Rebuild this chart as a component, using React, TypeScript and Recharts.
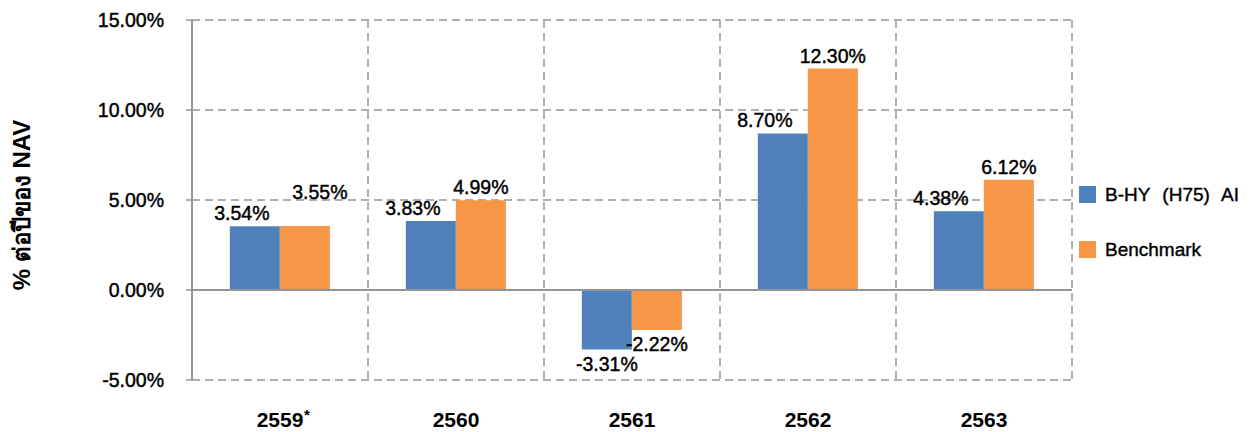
import React from "react";
import {
  BarChart,
  Bar,
  XAxis,
  YAxis,
  CartesianGrid,
  Legend,
  ReferenceLine,
  LabelList,
} from "recharts";

const years = ["2559", "2560", "2561", "2562", "2563"];
const fundReturns = [3.54, 3.83, -3.31, 8.7, 4.38];
const benchmarkReturns = [3.55, 4.99, -2.22, 12.3, 6.12];
const yTicks = [-5, 0, 5, 10, 15];
const footnoteYears = ["2559"];
const seriesNames = ["B-HY (H75) AI", "Benchmark"];
const seriesColors = ["#4F81BD", "#F79646"];
const yTitle = "% ต่อปีของ NAV";

const data = years.map((year, i) => ({
  year,
  fund: fundReturns[i],
  benchmark: benchmarkReturns[i],
}));

const FONT = "'Liberation Sans', Arial, 'Noto Sans', sans-serif";
const GRID = "#959595";

const fmt = (v: number) => `${v.toFixed(2)}%`;

// data label: above positive bars, below negative ones.
// the pair is pushed apart when labels collide, and the fund label steps left off a taller neighbour bar
const makeLabel = (series: "fund" | "benchmark") => (props: any) => {
  const { x, y, width, height, value, index } = props;
  if (value == null) return null;
  const top = Math.min(y, y + height);
  const bottom = Math.max(y, y + height);
  const own = series === "fund" ? fundReturns[index] : benchmarkReturns[index];
  const other = series === "fund" ? benchmarkReturns[index] : fundReturns[index];
  const pxPerUnit = Math.abs(own) > 0 ? Math.abs(height) / Math.abs(own) : 0;
  let dx = 0;
  let dy = 0;
  const gap = (other - own) * pxPerUnit;
  if (Math.sign(own) === Math.sign(other) && Math.abs(gap) < 18) {
    dx = series === "fund" ? -13 : 15;
    dy = series === "fund" ? 0 : value >= 0 ? -21 : 21;
  } else if (series === "fund" && own > 0 && gap > 6 && gap < 80) {
    dx = -18;
  }
  const ty = value >= 0 ? top - 6 : bottom + 21;
  return (
    <text
      x={x + width / 2 + dx}
      y={ty + dy}
      textAnchor="middle"
      fontFamily={FONT}
      fontSize={19.5}
      fill="#000"
      stroke="#000"
      strokeWidth={0.45}
    >
      {fmt(value)}
    </text>
  );
};

const XTick = (props: any) => {
  const { x, y, payload } = props;
  const star = footnoteYears.includes(payload.value);
  return (
    <g>
      <text
        x={x}
        y={y + 47}
        textAnchor="middle"
        fontFamily={FONT}
        fontWeight="bold"
        fontSize={21}
        fill="#000"
      >
        {payload.value}
      </text>
      {star && (
        <text
          x={x + 24}
          y={y + 40}
          textAnchor="start"
          fontFamily={FONT}
          fontWeight="bold"
          fontSize={15}
          fill="#000"
        >
          *
        </text>
      )}
    </g>
  );
};

const YTitle = (props: any) => {
  const { viewBox } = props;
  const cx = viewBox.x + 21;
  const cy = viewBox.y + viewBox.height / 2 + 5;
  return (
    <text
      x={cx}
      y={cy}
      transform={`rotate(-90, ${cx}, ${cy})`}
      textAnchor="middle"
      dominantBaseline="central"
      fontFamily={FONT}
      fontWeight="bold"
      fontSize={24}
      fill="#000"
    >
      {yTitle}
    </text>
  );
};

const LegendBox = () => (
  <div
    style={{
      fontFamily: FONT,
      fontSize: 19,
      color: "#000",
      WebkitTextStroke: "0.4px #000",
    }}
  >
    {seriesNames.map((name, i) => (
      <div key={name} style={{ display: "flex", alignItems: "center", height: 55 }}>
        <span
          style={{
            display: "inline-block",
            width: 17,
            height: 17,
            background: seriesColors[i],
            marginRight: 9,
          }}
        />
        <span style={{ wordSpacing: 7, whiteSpace: "nowrap" }}>{name}</span>
      </div>
    ))}
  </div>
);

export default function App() {
  return (
    <div style={{ position: "absolute", left: 0, top: 0, background: "#fff" }}>
      <BarChart
        width={1250}
        height={432}
        data={data}
        margin={{ top: 20, right: 178, left: 0, bottom: 12 }}
        barCategoryGap="21.5%"
        barGap={0}
      >
        <CartesianGrid
          stroke={GRID}
          strokeWidth={1.5}
          strokeDasharray="8 5"
          verticalCoordinatesGenerator={({ offset }: any) =>
            [...years.map((_, i) => offset.left + (offset.width * i) / years.length), offset.left + offset.width]
          }
        />
        <XAxis
          dataKey="year"
          axisLine={false}
          tickLine={false}
          tickSize={0}
          tickMargin={0}
          height={40}
          interval={0}
          tick={<XTick />}
        />
        <YAxis
          width={192}
          domain={[-5, 15]}
          ticks={yTicks}
          interval={0}
          tickFormatter={fmt}
          axisLine={{ stroke: GRID, strokeWidth: 2 }}
          tickLine={{ stroke: GRID, strokeWidth: 1.5 }}
          tickSize={6}
          tickMargin={22}
          tick={{ fontFamily: FONT, fontSize: 19.5, fill: "#000", stroke: "#000", strokeWidth: 0.45 }}
          label={<YTitle />}
        />
        <ReferenceLine y={0} stroke={GRID} strokeWidth={2} />
        <Legend
          layout="horizontal"
          align="center"
          verticalAlign="middle"
          content={<LegendBox />}
          wrapperStyle={{ left: 1079, top: 167, width: 171 }}
        />
        <Bar dataKey="fund" name={seriesNames[0]} fill={seriesColors[0]} isAnimationActive={false}>
          <LabelList dataKey="fund" content={makeLabel("fund")} />
        </Bar>
        <Bar dataKey="benchmark" name={seriesNames[1]} fill={seriesColors[1]} isAnimationActive={false}>
          <LabelList dataKey="benchmark" content={makeLabel("benchmark")} />
        </Bar>
      </BarChart>
    </div>
  );
}
